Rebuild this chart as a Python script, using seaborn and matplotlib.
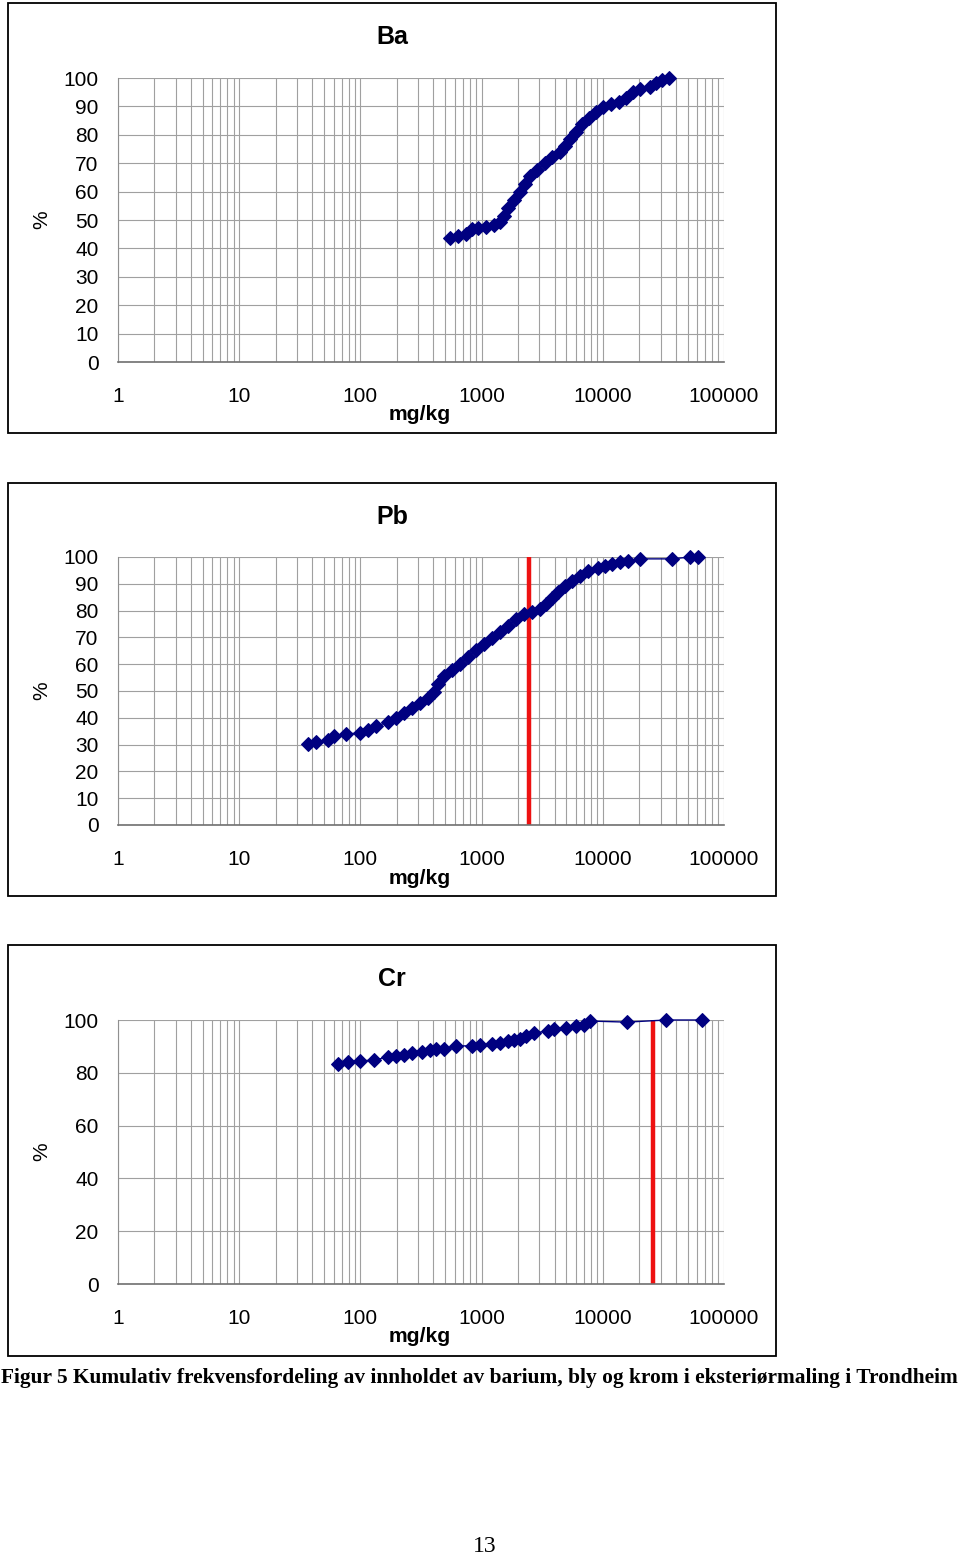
import matplotlib
matplotlib.use("Agg")
import matplotlib.pyplot as plt
from matplotlib.patches import Rectangle
from matplotlib.ticker import FixedLocator, LogLocator, NullFormatter
import seaborn as sns

# Ba: concentration (mg/kg) and cumulative share (%)
ba_conc = [548, 639, 743, 833, 934, 1087, 1265, 1419, 1531, 1652, 1850, 2075, 2280,
           2506, 2864, 3335, 3810, 4436, 4878, 5363, 6011, 6735, 7691, 8790, 10040,
           11690, 13610, 15540, 17750, 20280, 24510, 27480, 30780, 35180]
ba_pct = [43.7, 44.4, 45.1, 46.8, 47.2, 47.5, 48.2, 49.3, 51.4, 54.2, 57.0, 59.9, 62.7,
          65.5, 67.6, 70.1, 72.2, 73.9, 76.1, 78.5, 81.0, 83.8, 85.9, 88.0, 89.8,
          90.8, 91.5, 93.0, 95.1, 96.1, 96.8, 98.2, 99.3, 100.0]

# Pb
pb_conc = [37, 43, 54, 61, 76, 99, 116, 135, 169, 197, 229, 267, 310, 361, 405, 437,
           490, 570, 663, 772, 899, 1047, 1218, 1419, 1652, 1923, 2238, 2606, 3034,
           3398, 3810, 4267, 4878, 5570, 6486, 7551, 9126, 10420, 11910, 13860,
           16140, 20280, 37240, 52390, 61000]
pb_pct = [30.2, 31.0, 31.7, 33.2, 34.0, 34.3, 35.4, 36.9, 38.4, 39.9, 41.8, 43.7, 45.5,
          47.4, 49.6, 52.6, 55.6, 57.8, 60.1, 62.7, 65.3, 67.5, 69.8, 72.0, 74.3,
          76.9, 78.7, 79.5, 80.6, 82.5, 84.7, 86.9, 89.2, 91.0, 92.9, 94.8, 95.9,
          96.6, 97.4, 98.1, 98.5, 99.3, 99.3, 100.0, 100.0]
pb_limit = 2460

# Cr
cr_conc = [65, 79, 99, 130, 169, 197, 229, 267, 322, 375, 421, 490, 615, 833, 970,
           1218, 1419, 1652, 1850, 2075, 2323, 2706, 3532, 3957, 4969, 6011, 7000,
           7840, 15830, 33200, 65800]
cr_pct = [83.3, 84.1, 84.5, 84.8, 86.0, 86.4, 86.7, 87.5, 87.9, 88.6, 89.0, 89.0,
          90.2, 90.2, 90.5, 90.9, 91.3, 92.0, 92.4, 92.8, 93.9, 95.1, 95.8, 96.6,
          97.0, 97.7, 98.1, 99.6, 99.2, 100.0, 100.0]
cr_limit = 25950

x_ticks = [1, 10, 100, 1000, 10000, 100000]
x_labels = ["1", "10", "100", "1000", "10000", "100000"]

sns.set_style("white")
plt.rcParams["font.family"] = ["Liberation Sans", "DejaVu Sans"]
plt.rcParams["text.color"] = "black"
plt.rcParams["xtick.color"] = "black"
plt.rcParams["ytick.color"] = "black"

W, H = 960, 1559
fig = plt.figure(figsize=(9.6, 15.59), dpi=100)

panels = [
    # title, x, y, limit, y step, box (top, bottom), axes (top, bottom)
    ("Ba", ba_conc, ba_pct, None, 10, (3, 433), (78, 362)),
    ("Pb", pb_conc, pb_pct, pb_limit, 10, (483, 896), (557, 825)),
    ("Cr", cr_conc, cr_pct, cr_limit, 20, (945, 1356), (1020, 1284)),
]

for title, xs, ys, limit, step, box, axbox in panels:
    # frame around each chart
    fig.patches.append(Rectangle((8 / W, 1 - box[1] / H), 768 / W, (box[1] - box[0]) / H,
                                 transform=fig.transFigure, fill=False,
                                 edgecolor="black", linewidth=1.3))
    ax = fig.add_axes([118 / W, 1 - axbox[1] / H, 606 / W, (axbox[1] - axbox[0]) / H])
    ax.set_xscale("log")
    ax.set_xlim(1, 100000)
    ax.set_ylim(0, 100)
    ax.xaxis.set_major_locator(FixedLocator(x_ticks))
    ax.xaxis.set_minor_locator(LogLocator(base=10, subs=range(2, 10)))
    ax.xaxis.set_minor_formatter(NullFormatter())
    ax.set_xticklabels(x_labels)
    ax.set_yticks(range(0, 101, step))
    ax.grid(True, which="both", axis="x", color="#a0a0a0", linewidth=0.8)
    ax.grid(True, which="major", axis="y", color="#a0a0a0", linewidth=0.8)
    ax.set_axisbelow(True)
    for s in ["top", "right"]:
        ax.spines[s].set_visible(False)
    ax.spines["left"].set_color("#909090")
    ax.spines["bottom"].set_color("#707070")
    ax.spines["bottom"].set_linewidth(1.2)
    ax.tick_params(axis="x", which="major", length=4, color="#909090", labelcolor="black",
                   pad=14, labelsize=15)
    ax.tick_params(axis="x", which="minor", length=0)
    ax.tick_params(axis="y", length=4, color="#909090", labelcolor="black",
                   pad=10, labelsize=15)

    sns.lineplot(x=xs, y=ys, ax=ax, color="#000080", marker="D", markersize=7,
                 markeredgecolor="#000080", linewidth=1.0, estimator=None, sort=False,
                 clip_on=False)
    if limit is not None:
        ax.plot([limit, limit], [0, 100], color="#ee1111", linewidth=3.2,
                solid_capstyle="butt", zorder=1.5, clip_on=False)

    fig.text(392 / W, 1 - (box[0] + 34) / H, title, ha="center", va="center",
             fontsize=18, fontweight="bold")
    fig.text(420 / W, 1 - (axbox[1] + 53) / H, "mg/kg", ha="center", va="center",
             fontsize=15.2, fontweight="bold")
    fig.text(42 / W, 1 - (axbox[0] + axbox[1]) / 2 / H, "%", ha="center", va="center",
             fontsize=15, rotation=90)

fig.text(479 / W, 1 - 1378 / H, "Figur 5 Kumulativ frekvensfordeling av innholdet av barium, "
         "bly og krom i eksteriørmaling i Trondheim", ha="center", va="center",
         fontsize=15.4, fontweight="bold", family=["Liberation Serif", "DejaVu Serif"])
fig.text(485 / W, 1 - 1546 / H, "13", ha="center", va="center", fontsize=17,
         family=["Liberation Serif", "DejaVu Serif"])

fig.savefig("out.png", dpi=100)
